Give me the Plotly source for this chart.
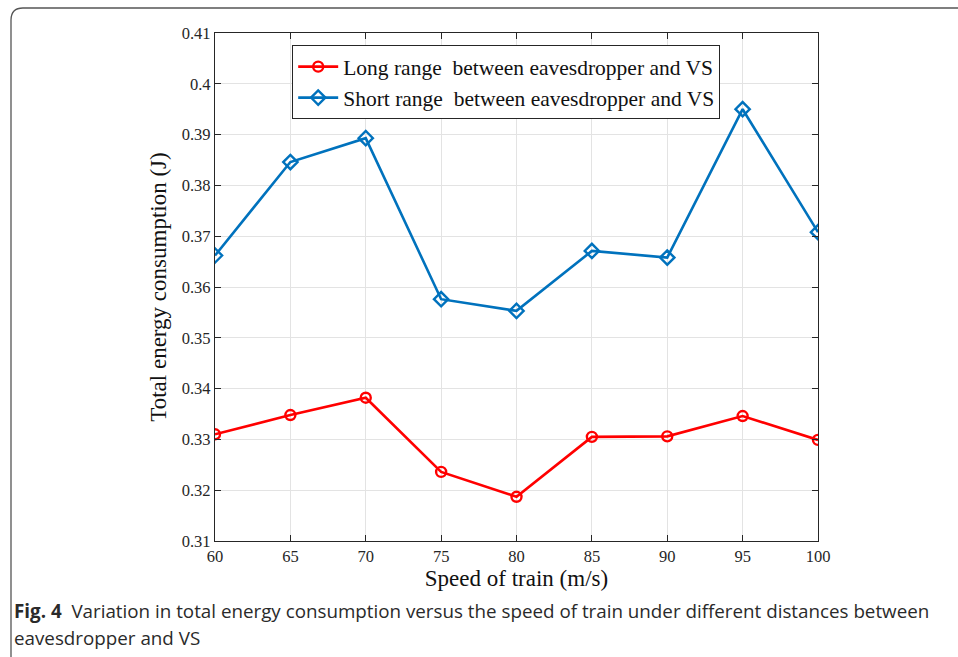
import plotly.graph_objects as go

speed = [60, 65, 70, 75, 80, 85, 90, 95, 100]
long_range = [0.3310, 0.3348, 0.3382, 0.3236, 0.3187, 0.3305, 0.3306, 0.3346, 0.3299]
short_range = [0.3662, 0.3846, 0.3893, 0.3576, 0.3553, 0.3671, 0.3658, 0.3950, 0.3708]
x_ticks = [60, 65, 70, 75, 80, 85, 90, 95, 100]
y_ticks = [0.31, 0.32, 0.33, 0.34, 0.35, 0.36, 0.37, 0.38, 0.39, 0.40, 0.41]
y_labels = ["0.31", "0.32", "0.33", "0.34", "0.35", "0.36", "0.37", "0.38", "0.39", "0.4", "0.41"]

serif = "Liberation Serif, Times New Roman, serif"

fig = go.Figure()
fig.add_trace(go.Scatter(
    x=speed, y=long_range, mode="lines+markers",
    name="Long range  between eavesdropper and VS",
    line=dict(color="#ff0000", width=2.6),
    marker=dict(symbol="circle-open", size=10, color="#ff0000", line=dict(width=2.4)),
))
fig.add_trace(go.Scatter(
    x=speed, y=short_range, mode="lines+markers",
    name="Short range  between eavesdropper and VS",
    line=dict(color="#0072bd", width=2.6),
    marker=dict(symbol="diamond-open", size=11, color="#0072bd", line=dict(width=2.4)),
))

axis_common = dict(
    showline=True, linecolor="#262626", linewidth=1.2, mirror="ticks",
    ticks="inside", ticklen=6, tickcolor="#262626", tickwidth=1,
    showgrid=True, gridcolor="#e3e3e3", gridwidth=1, zeroline=False,
    tickfont=dict(family=serif, size=16.5, color="#262626"),
)

fig.update_xaxes(
    range=[60, 100], tickvals=x_ticks, ticktext=[str(v) for v in x_ticks],
    title=dict(text="Speed of train (m/s)", font=dict(family=serif, size=23, color="#111"), standoff=2),
    **axis_common,
)
fig.update_yaxes(
    range=[0.31, 0.41], tickvals=y_ticks, ticktext=y_labels,
    title=dict(text="Total energy consumption (J)", font=dict(family=serif, size=23, color="#111"), standoff=8),
    **axis_common,
)

fig.update_layout(
    width=958, height=657,
    margin=dict(l=215, r=140, t=33, b=116),
    paper_bgcolor="white", plot_bgcolor="white",
    showlegend=True,
    legend=dict(
        x=0.128, y=0.976, xanchor="left", yanchor="top",
        bgcolor="white", bordercolor="#262626", borderwidth=1,
        font=dict(family=serif, size=21.5, color="#111"),
        tracegroupgap=0, itemwidth=40,
    ),
)

# card border (rounded top-left corner, open at bottom)
fig.add_shape(
    type="path", xref="paper", yref="paper",
    path="M %f %f L %f %f Q %f %f %f %f L %f %f" % (
        (11 - 215) / 603, (541 - 657) / 508,
        (11 - 215) / 603, (541 - 20) / 508,
        (11 - 215) / 603, (541 - 8) / 508,
        (23 - 215) / 603, (541 - 8) / 508,
        (958 - 215) / 603, (541 - 8) / 508,
    ),
    line=dict(color="#555555", width=1.3),
)

caption_font = dict(family="Open Sans, Noto Sans, sans-serif", size=18.8, color="#2a2a2a")
fig.add_annotation(
    xref="paper", yref="paper", x=(12 - 215) / 603, y=(541 - 611) / 508,
    xanchor="left", yanchor="middle", showarrow=False,
    text="<b>Fig. 4</b>  Variation in total energy consumption versus the speed of train under different distances between",
    font=caption_font,
)
fig.add_annotation(
    xref="paper", yref="paper", x=(12 - 215) / 603, y=(541 - 638) / 508,
    xanchor="left", yanchor="middle", showarrow=False,
    text="eavesdropper and VS",
    font=caption_font,
)

fig.write_html("out.html")
